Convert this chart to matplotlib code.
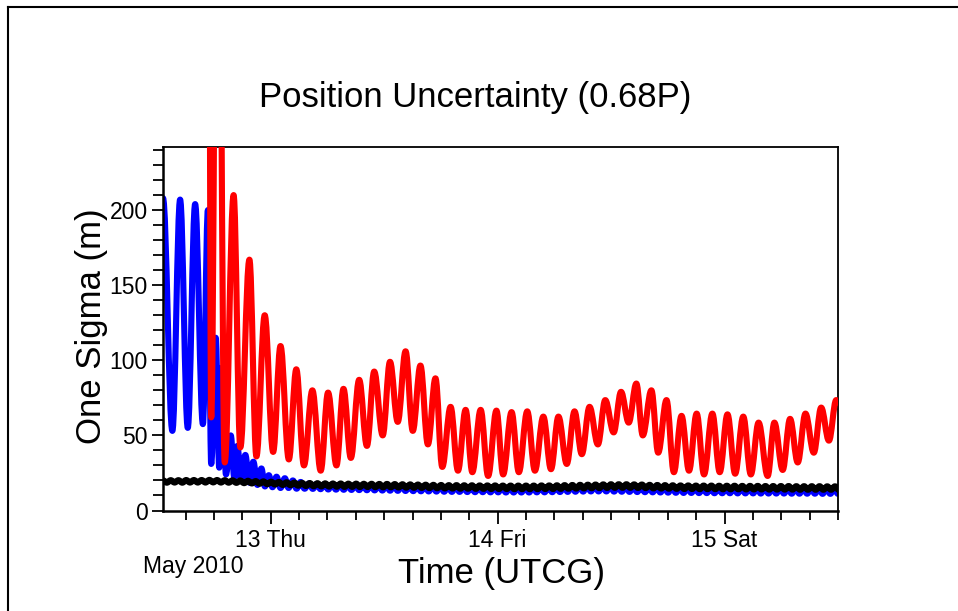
import numpy as np
import matplotlib
matplotlib.use("Agg")
import matplotlib.pyplot as plt
from matplotlib.lines import Line2D
from matplotlib.path import Path
from matplotlib.patches import PathPatch
from matplotlib.ticker import MultipleLocator

plt.rcParams['font.family'] = ['Liberation Sans', 'DejaVu Sans']

# ---------------- data (time in hours since 2010-05-12 00:00 UTCG, values in m) -------------
# successive extrema (peaks / troughs)
red_t = [17.38, 17.70, 18.39, 19.13,
         20.07, 20.78, 21.74, 22.48, 23.36, 24.25, 25.03, 25.91, 26.70, 27.51,
         28.40, 29.28, 30.06, 30.95, 31.69, 32.47, 33.35, 34.17, 34.94, 35.84,
         36.61, 37.43, 38.26, 39.02, 39.83, 40.62, 41.42, 42.14, 43.02, 43.80,
         44.61, 45.32, 46.20, 46.99, 47.87, 48.58, 49.47, 50.24, 51.13, 51.94,
         52.83, 53.64, 54.43, 55.31, 56.13, 56.90, 57.72, 58.60, 59.38, 60.27,
         61.05, 61.86, 62.67, 63.35, 64.26, 64.98, 65.86, 66.64, 67.45, 68.24,
         69.05, 69.83, 70.71, 71.49, 72.31, 73.12, 73.98, 74.78, 75.60, 76.56,
         77.27, 78.15, 78.93, 79.74, 80.56, 81.44, 82.22, 83.04, 83.81, 84.00]
red_v = [600, 62, 560, 32,
         210, 42, 167, 36, 130, 39, 109.5, 34, 94, 30,
         80, 26.5, 78.5, 30, 81, 35, 87, 43, 92.5, 50,
         99, 59, 106, 53, 96.5, 44, 88, 29, 69, 26.5,
         67, 25.5, 67, 23, 66.5, 24, 65.5, 25.5, 66, 26.5,
         62.5, 27.5, 62.5, 31, 66, 37.5, 69, 44, 73.5, 52,
         79, 58.5, 84.5, 50, 80, 38.5, 73.5, 25.5, 63, 26.5,
         64.5, 24, 64.5, 25.5, 64, 24.5, 62.5, 24, 58.5, 23,
         58.5, 27, 61, 32, 64.5, 38.5, 68.5, 46.5, 73.5, 72]

blue_t = [12.60, 13.59, 14.41, 15.22, 16.00, 16.82, 17.35, 17.70, 18.18, 18.55,
          18.82, 19.26, 19.77, 20.14, 20.46, 20.89, 21.31, 21.74, 22.16, 22.59,
          23.01, 23.38, 23.79, 24.18, 24.61, 25.03, 25.49, 25.88, 26.34, 26.73,
          27.16, 27.58]
blue_v = [208, 53, 207, 55, 204, 57.5, 200, 31, 115, 28.5,
          95, 24, 50, 22, 43, 20, 37, 18.5, 32.5, 17,
          28, 16, 23.5, 15.5, 22.5, 15, 21.5, 15, 20, 14.5,
          19, 14.5]

# later blue ripple, regularly sampled at successive extrema
blue_ripple_start = 28.04
ripple_step = 0.4085
blue_ripple = [18.0, 14.4, 17.7, 14.2, 17.5, 14.0, 17.3, 13.9, 17.2, 13.8,
               17.1, 13.7, 17.0, 13.6, 16.9, 13.5, 16.8, 13.4, 16.7, 13.3,
               16.6, 13.2, 16.5, 13.1, 16.4, 13.0, 16.3, 12.9, 16.2, 12.8,
               16.1, 12.7, 16.0, 12.6, 15.9, 12.5, 15.8, 12.4, 15.7, 12.4,
               15.6, 12.3, 15.5, 12.2, 15.5, 12.2, 15.4, 12.1, 15.4, 12.1,
               15.3, 12.0, 15.3, 12.0, 15.3, 12.0, 15.3, 12.0, 15.4, 12.1,
               15.4, 12.1, 15.5, 12.2, 15.6, 12.3, 15.7, 12.4, 15.8, 12.5,
               15.9, 12.6, 16.0, 12.7, 16.0, 12.7, 16.0, 12.7, 15.9, 12.6,
               15.8, 12.5, 15.7, 12.4, 15.6, 12.3, 15.5, 12.2, 15.4, 12.1,
               15.3, 12.0, 15.2, 11.9, 15.1, 11.8, 15.0, 11.7, 15.0, 11.7,
               14.9, 11.6, 14.9, 11.6, 14.8, 11.5, 14.8, 11.5, 14.8, 11.5,
               14.7, 11.4, 14.7, 11.4, 14.7, 11.4, 14.6, 11.3, 14.6, 11.3,
               14.6, 11.3, 14.6, 11.3, 14.5, 11.2, 14.5, 11.2, 14.5, 11.2,
               14.5, 11.2, 14.4, 11.1, 14.4, 11.1, 14.4, 11.1]

black_start = 12.60
black_ripple = [20.0, 18.6, 20.1, 18.7, 20.1, 18.6, 20.2, 18.7, 20.2, 18.7,
                20.2, 18.7, 20.3, 18.8, 20.2, 18.7, 20.1, 18.6, 20.0, 18.5,
                19.9, 18.3, 19.7, 18.1, 19.5, 17.9, 19.3, 17.6, 19.1, 17.4,
                18.9, 17.1, 18.7, 16.9, 18.5, 16.6, 18.3, 16.4, 18.2, 16.2,
                18.1, 16.1, 18.0, 16.0, 17.9, 15.9, 17.9, 15.8, 17.8, 15.8,
                17.8, 15.7, 17.7, 15.7, 17.7, 15.6, 17.6, 15.5, 17.6, 15.5,
                17.5, 15.4, 17.4, 15.3, 17.3, 15.2, 17.2, 15.1, 17.1, 15.0,
                17.0, 14.9, 16.9, 14.8, 16.8, 14.7, 16.8, 14.6, 16.7, 14.6,
                16.7, 14.5, 16.6, 14.5, 16.6, 14.4, 16.6, 14.4, 16.5, 14.4,
                16.5, 14.3, 16.5, 14.3, 16.5, 14.3, 16.5, 14.3, 16.6, 14.4,
                16.6, 14.4, 16.7, 14.5, 16.8, 14.6, 16.9, 14.7, 17.0, 14.8,
                17.1, 14.9, 17.2, 15.0, 17.3, 15.1, 17.4, 15.2, 17.4, 15.2,
                17.4, 15.2, 17.3, 15.1, 17.2, 15.0, 17.0, 14.8, 16.9, 14.7,
                16.8, 14.6, 16.7, 14.5, 16.6, 14.4, 16.6, 14.4, 16.5, 14.3,
                16.5, 14.3, 16.5, 14.3, 16.4, 14.2, 16.4, 14.2, 16.4, 14.2,
                16.3, 14.1, 16.3, 14.1, 16.3, 14.1, 16.2, 14.0, 16.2, 14.0,
                16.2, 14.0, 16.2, 14.0, 16.1, 13.9, 16.1, 13.9, 16.1, 13.9,
                16.1, 13.9, 16.0, 13.9, 16.0, 13.8]

x_range = [12.6, 84.0]
y_range = [0, 242]
day_ticks = [24, 48, 72]
day_labels = ["13 Thu", "14 Fri", "15 Sat"]
y_major = [0, 50, 100, 150, 200]

title_text = "Position Uncertainty (0.68P)"
ylabel_text = "One Sigma (m)"
xlabel_text = "Time (UTCG)"
epoch_text = "May 2010"


def smooth_line(ax, t, v, color, lw, z, handle=0.37):
    """Draw a curve through successive extrema using cubic Bezier segments
    with horizontal tangents at each extremum (rendering only)."""
    t = np.asarray(t, float)
    v = np.asarray(v, float)
    verts = [(t[0], v[0])]
    codes = [Path.MOVETO]
    for i in range(len(t) - 1):
        dt = t[i + 1] - t[i]
        verts += [(t[i] + handle * dt, v[i]),
                  (t[i + 1] - handle * dt, v[i + 1]),
                  (t[i + 1], v[i + 1])]
        codes += [Path.CURVE4] * 3
    patch = PathPatch(Path(verts, codes), facecolor='none', edgecolor=color,
                      lw=lw, capstyle='round', joinstyle='round', zorder=z)
    ax.add_patch(patch)


# ---------------- figure ----------------
W, H = 958, 611
fig = plt.figure(figsize=(W / 100, H / 100), dpi=100)
fig.patch.set_facecolor('white')

ax = fig.add_axes([163 / W, (H - 510.5) / H, 675 / W, 363.5 / H])

bt = np.concatenate([blue_t, blue_ripple_start + ripple_step * np.arange(len(blue_ripple))])
bv = np.concatenate([blue_v, blue_ripple])
kt = black_start + ripple_step * np.arange(len(black_ripple))

smooth_line(ax, bt, bv, '#0000ff', 4.4, 2)
smooth_line(ax, kt, black_ripple, 'black', 4.6, 3)
smooth_line(ax, red_t, red_v, '#ff0000', 4.4, 4)

ax.set_xlim(*x_range)
ax.set_ylim(*y_range)

ax.set_xticks(day_ticks)
ax.set_xticklabels(day_labels)
ax.xaxis.set_minor_locator(MultipleLocator(3))
ax.set_yticks(y_major)
ax.set_yticklabels([str(v) for v in y_major])
ax.yaxis.set_minor_locator(MultipleLocator(10))

ax.tick_params(axis='x', which='major', length=9.5, width=1.3, direction='out',
               labelsize=16.5, pad=4)
ax.tick_params(axis='x', which='minor', length=6.5, width=1.3, direction='out')
ax.tick_params(axis='y', which='major', length=8, width=1.3, direction='out',
               labelsize=16.5, pad=3)
ax.tick_params(axis='y', which='minor', length=7.5, width=1.3, direction='out')

for side in ['left', 'bottom']:
    ax.spines[side].set_linewidth(1.8)
for side in ['top', 'right']:
    ax.spines[side].set_linewidth(1.3)

fig.text(475 / W, 1 - 97 / H, title_text, fontsize=25, ha='center', va='center')
fig.text(92 / W, 1 - 326 / H, ylabel_text, fontsize=25, rotation=90,
         ha='center', va='center')
fig.text(501 / W, 1 - 573 / H, xlabel_text, fontsize=25, ha='center', va='center')
fig.text(193 / W, 1 - 566 / H, epoch_text, fontsize=16.5, ha='center', va='center')

# outer frame (left and top edges visible in the reference)
fig.add_artist(Line2D([8 / W, 8 / W], [0, 1 - 7 / H], transform=fig.transFigure,
                      color='black', lw=1.5))
fig.add_artist(Line2D([8 / W, 1], [1 - 7 / H, 1 - 7 / H], transform=fig.transFigure,
                      color='black', lw=1.5))

fig.savefig('out.png', dpi=100)
